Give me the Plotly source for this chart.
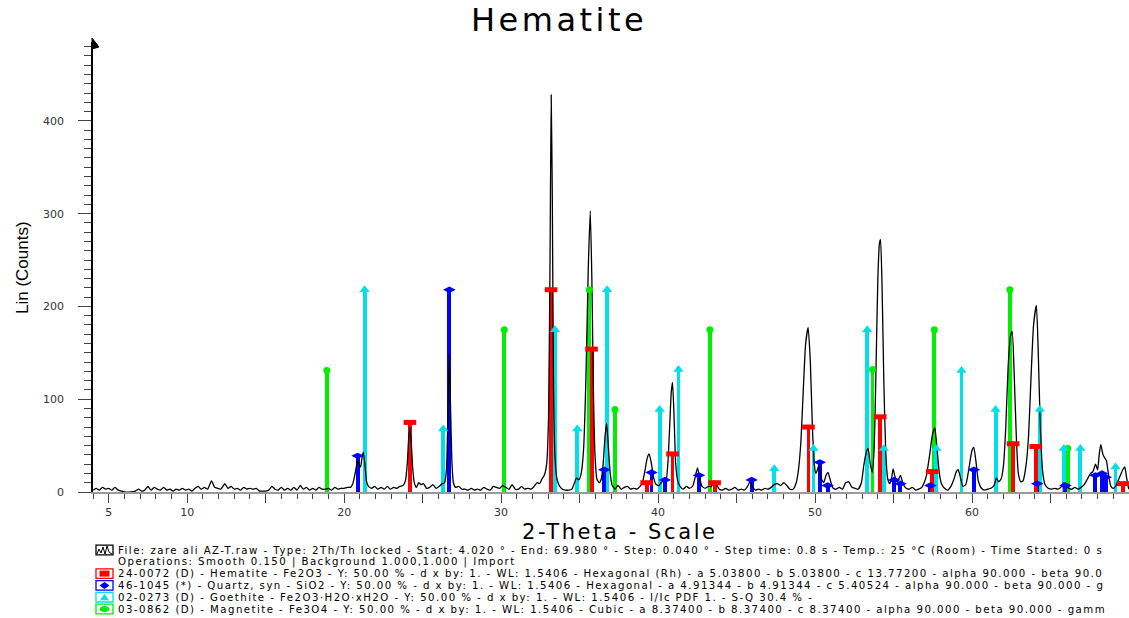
import plotly.graph_objects as go

# ---------------- data ----------------
two_theta = [4.02, 4.2, 4.4, 4.6, 4.8, 5.0, 5.2, 5.4, 5.6, 5.8, 6.0, 6.4, 6.7, 6.9, 7.1, 7.3, 7.5, 7.7, 7.9, 8.1,
             8.3, 8.5, 8.7, 8.9, 9.1, 9.3, 9.5, 9.7, 9.9, 10.1, 10.3, 10.5, 10.7, 10.9, 11.1, 11.3, 11.55, 11.75, 11.95, 12.15,
             12.4, 12.6, 12.8, 13.0, 13.2, 13.4, 13.6, 13.8, 14.0, 14.2, 14.4, 14.6, 14.8, 15.0, 15.2, 15.4, 15.6, 15.8, 16.0, 16.2,
             16.4, 16.6, 16.8, 17.0, 17.2, 17.4, 17.6, 17.8, 18.0, 18.2, 18.4, 18.6, 18.8, 19.0, 19.2, 19.4, 19.6, 19.8, 20.0, 20.2,
             20.4, 20.55, 20.7, 20.86, 20.97, 21.05, 21.13, 21.22, 21.32, 21.42, 21.55, 21.75, 21.95, 22.15, 22.35, 22.55, 22.75, 22.95, 23.15, 23.35,
             23.55, 23.75, 23.9, 24.02, 24.1, 24.19, 24.28, 24.37, 24.47, 24.6, 24.75, 24.9, 25.05, 25.25, 25.45, 25.65, 25.85, 26.05, 26.25, 26.4,
             26.52, 26.6, 26.7, 26.78, 26.86, 26.96, 27.1, 27.3, 27.5, 27.7, 27.9, 28.1, 28.3, 28.5, 28.7, 28.9, 29.1, 29.3, 29.5, 29.7,
             29.9, 30.1, 30.3, 30.5, 30.7, 30.9, 31.1, 31.3, 31.5, 31.7, 31.9, 32.1, 32.3, 32.45, 32.6, 32.75, 32.9, 33.02, 33.12, 33.19,
             33.26, 33.34, 33.44, 33.56, 33.7, 33.9, 34.1, 34.3, 34.5, 34.65, 34.8, 34.95, 35.1, 35.25, 35.4, 35.55, 35.68, 35.78, 35.88, 35.98,
             36.1, 36.25, 36.38, 36.5, 36.62, 36.72, 36.82, 36.95, 37.08, 37.25, 37.45, 37.65, 37.85, 38.05, 38.25, 38.45, 38.65, 38.85, 39.0, 39.15,
             39.3, 39.43, 39.58, 39.72, 39.88, 40.05, 40.2, 40.35, 40.5, 40.62, 40.75, 40.84, 40.92, 41.02, 41.12, 41.25, 41.4, 41.6, 41.8, 42.0,
             42.2, 42.35, 42.51, 42.65, 42.8, 43.0, 43.2, 43.4, 43.57, 43.72, 43.9, 44.1, 44.3, 44.5, 44.7, 44.9, 45.1, 45.3, 45.5, 45.7,
             45.85, 46.0, 46.2, 46.4, 46.6, 46.8, 47.0, 47.2, 47.4, 47.6, 47.8, 48.0, 48.2, 48.4, 48.6, 48.8, 48.95, 49.1, 49.25, 49.4,
             49.56, 49.7, 49.83, 49.95, 50.05, 50.15, 50.24, 50.38, 50.55, 50.7, 50.83, 50.98, 51.15, 51.35, 51.55, 51.75, 51.95, 52.15, 52.35, 52.55,
             52.75, 52.95, 53.1, 53.25, 53.38, 53.52, 53.64, 53.76, 53.88, 54.0, 54.1, 54.17, 54.27, 54.38, 54.5, 54.62, 54.75, 54.87, 54.97, 55.1,
             55.25, 55.44, 55.6, 55.8, 56.0, 56.2, 56.4, 56.6, 56.8, 56.95, 57.1, 57.3, 57.48, 57.63, 57.78, 57.92, 58.05, 58.25, 58.45, 58.65,
             58.85, 59.0, 59.12, 59.27, 59.42, 59.6, 59.75, 59.9, 60.0, 60.11, 60.25, 60.4, 60.6, 60.8, 61.0, 61.2, 61.4, 61.55, 61.7, 61.85,
             62.0, 62.15, 62.3, 62.45, 62.56, 62.68, 62.82, 62.95, 63.1, 63.25, 63.45, 63.6, 63.75, 63.92, 64.1, 64.22, 64.35, 64.5, 64.65,
             64.85, 65.05, 65.25, 65.45, 65.65, 65.85, 66.0, 66.15, 66.35, 66.55, 66.75, 66.95, 67.15, 67.35, 67.55, 67.7, 67.87, 68.0, 68.1, 68.2,
             68.35, 68.48, 68.56, 68.7, 68.85, 69.0, 69.15, 69.3, 69.45, 69.6, 69.73, 69.85, 69.98]
counts = [2, 4, 2, 5, 3, 4, 2, 5, 2, 1, 0, 0, 1, 3, 1, 2, 6, 2, 5, 3,
          2, 5, 2, 3, 1, 3, 2, 4, 2, 3, 1, 4, 6, 3, 5, 3, 12, 5, 4, 3,
          9, 4, 6, 3, 4, 2, 5, 3, 4, 3, 4, 1, 1, 1, 2, 6, 3, 2, 5, 2,
          4, 2, 5, 2, 7, 3, 5, 2, 4, 2, 5, 3, 3, 4, 2, 5, 3, 4, 4, 5,
          5, 9, 20, 34, 29, 27, 36, 43, 30, 12, 6, 4, 6, 3, 5, 3, 6, 3, 5, 4,
          6, 7, 12, 30, 55, 70, 52, 25, 10, 5, 10, 8, 9, 4, 5, 8, 4, 6, 9, 10,
          25, 75, 148, 90, 35, 10, 5, 6, 3, 3, 2, 4, 2, 3, 2, 5, 3, 2, 6, 5,
          4, 7, 5, 3, 8, 3, 3, 6, 3, 4, 3, 6, 10, 9, 14, 18, 30, 80, 260, 428,
          320, 110, 35, 14, 7, 3, 2, 2, 3, 9, 15, 13, 20, 45, 120, 240, 303, 230, 110, 40,
          14, 10, 14, 30, 60, 74, 52, 20, 7, 3, 7, 3, 5, 6, 3, 4, 3, 6, 10, 22,
          36, 41, 30, 15, 8, 7, 10, 13, 12, 30, 75, 108, 118, 80, 31, 12, 6, 3, 6, 4,
          6, 15, 26, 15, 6, 4, 6, 6, 12, 8, 3, 2, 4, 2, 3, 5, 2, 3, 2, 6,
          11, 6, 2, 3, 2, 4, 3, 5, 8, 9, 7, 10, 7, 3, 3, 10, 25, 55, 110, 160,
          177, 140, 70, 30, 20, 24, 29, 15, 10, 18, 21, 12, 4, 3, 5, 3, 10, 11, 5, 4,
          3, 10, 28, 42, 47, 30, 21, 45, 130, 230, 268, 272, 220, 120, 45, 15, 9, 14, 25, 16,
          11, 18, 9, 4, 3, 5, 2, 3, 5, 10, 18, 40, 62, 69, 45, 20, 9, 4, 2, 6,
          14, 22, 24, 15, 6, 8, 20, 36, 45, 48, 33, 12, 4, 2, 3, 4, 7, 15, 11, 14,
          28, 70, 135, 168, 173, 130, 60, 20, 11, 12, 30, 60, 120, 180, 201, 150, 70, 22, 8,
          4, 3, 4, 3, 5, 10, 8, 4, 3, 5, 3, 5, 8, 14, 20, 22, 30, 24, 40, 51,
          40, 36, 34, 18, 6, 4, 6, 12, 18, 24, 27, 15, 3]

hematite_pos = [24.19, 33.18, 35.76, 39.27, 40.92, 43.60, 49.58, 54.15, 57.46, 62.62, 64.06, 69.63]
hematite_int = [75, 218, 154, 10, 41, 10, 70, 81, 22, 52, 49, 9]

quartz_pos = [20.86, 26.70, 36.58, 39.58, 40.43, 42.60, 45.96, 50.30, 50.80, 55.04, 55.44, 57.35, 60.12, 64.15, 65.95, 67.86, 68.28, 68.52]
quartz_int = [39, 218, 24, 21, 13, 18, 13, 32, 7, 13, 9, 7, 24, 9, 7, 18, 20, 16]

goethite_pos = [21.30, 26.31, 33.43, 34.85, 36.75, 40.10, 41.30, 47.40, 49.90, 53.32, 54.38, 57.72, 59.33, 61.50, 64.32, 65.85, 66.90, 69.14]
goethite_int = [218, 68, 175, 68, 218, 89, 132, 25, 47, 175, 47, 47, 131, 89, 89, 47, 47, 27]

magnetite_pos = [18.90, 30.20, 35.62, 37.25, 43.30, 53.66, 57.60, 62.41, 66.10]
magnetite_int = [131, 175, 218, 89, 175, 132, 175, 218, 47]

x_tick_vals = [5, 10, 15, 20, 25, 30, 35, 40, 45, 50, 55, 60, 65]
x_tick_text = ["5", "10", "", "20", "", "30", "", "40", "", "50", "", "60", ""]
y_tick_vals = [0, 100, 200, 300, 400]

legend_lines = [
    "File: zare ali AZ-T.raw - Type: 2Th/Th locked - Start: 4.020 ° - End: 69.980 ° - Step: 0.040 ° - Step time: 0.8 s - Temp.: 25 °C (Room) - Time Started: 0 s",
    "Operations: Smooth 0.150 | Background 1.000,1.000 | Import",
    "24-0072 (D) - Hematite - Fe2O3 - Y: 50.00 % - d x by: 1. - WL: 1.5406 - Hexagonal (Rh) - a 5.03800 - b 5.03800 - c 13.77200 - alpha 90.000 - beta 90.0",
    "46-1045 (*) - Quartz, syn - SiO2 - Y: 50.00 % - d x by: 1. - WL: 1.5406 - Hexagonal - a 4.91344 - b 4.91344 - c 5.40524 - alpha 90.000 - beta 90.000 - g",
    "02-0273 (D) - Goethite - Fe2O3·H2O·xH2O - Y: 50.00 % - d x by: 1. - WL: 1.5406 - I/Ic PDF 1. - S-Q 30.4 % -",
    "03-0862 (D) - Magnetite - Fe3O4 - Y: 50.00 % - d x by: 1. - WL: 1.5406 - Cubic - a 8.37400 - b 8.37400 - c 8.37400 - alpha 90.000 - beta 90.000 - gamm",
]

# ---------------- layout geometry (pixels) ----------------
W, H = 1129, 618
L, R, T, B = 93, 0, 42, 126
PW, PH = W - L - R, H - T - B


def px(xp):
    return (xp - L) / PW


def py(yp):
    return (H - B - yp) / PH


def spaced(txt, ls):
    return f'<span style="letter-spacing:{ls}px">{txt}</span>'


RED, BLUE, CYAN, GREEN = "#ff0000", "#0000ff", "#00e0e8", "#00ee00"
phases = [
    (magnetite_pos, magnetite_int, GREEN, "circle", 7, None),
    (goethite_pos, goethite_int, CYAN, "triangle-up", 9, None),
    (quartz_pos, quartz_int, BLUE, "diamond-wide", 9, None),
    (hematite_pos, hematite_int, RED, "line-ew", 9, 5),
]

fig = go.Figure()
for pos, inten, col, sym, size, lw in phases:
    fig.add_trace(go.Bar(x=pos, y=inten, width=0.25, marker=dict(color=col, line=dict(width=0)),
                         showlegend=False, hoverinfo="skip"))

fig.add_trace(go.Scatter(x=two_theta, y=counts, mode="lines",
                         line=dict(color="black", width=1.3, shape="spline", smoothing=0.5),
                         showlegend=False))

for pos, inten, col, sym, size, lw in phases:
    if lw:
        mk = dict(symbol=sym, size=size, line=dict(color=col, width=lw))
    else:
        mk = dict(symbol=sym, size=size, color=col, line=dict(width=0))
    fig.add_trace(go.Scatter(x=pos, y=inten, mode="markers", marker=mk, showlegend=False, hoverinfo="skip"))

tick_font = dict(family="DejaVu Sans", size=11, color="#333333")
fig.update_layout(
    width=W, height=H, autosize=False,
    margin=dict(l=L, r=R, t=T, b=B, pad=0),
    plot_bgcolor="white", paper_bgcolor="white",
    barmode="overlay", bargap=0,
    showlegend=False,
    xaxis=dict(range=[4.0, 70.0], showgrid=False, zeroline=False,
               showline=True, linecolor="#9a9a9a", linewidth=2,
               tickmode="array", tickvals=x_tick_vals, ticktext=x_tick_text,
               ticks="outside", ticklen=9, tickwidth=1.3, tickcolor="#444444",
               tickfont=tick_font, ticklabelstandoff=0,
               minor=dict(tickmode="linear", tick0=0, dtick=1, ticks="outside", ticklen=5,
                          tickwidth=1.2, tickcolor="#444444")),
    yaxis=dict(range=[0, 485], showgrid=False, zeroline=False,
               showline=True, linecolor="black", linewidth=1.5,
               tickmode="array", tickvals=y_tick_vals,
               ticks="outside", ticklen=13, tickwidth=1.2, tickcolor="#444444",
               tickfont=tick_font, ticklabelstandoff=12,
               minor=dict(tickmode="linear", tick0=0, dtick=10, ticks="outside", ticklen=7,
                          tickwidth=1.2, tickcolor="#444444")),
)

ann = []
ann.append(dict(text=spaced("Hematite", 3.5), x=px(559), y=py(20), xref="paper", yref="paper",
                showarrow=False, xanchor="center", yanchor="middle",
                font=dict(family="DejaVu Sans", size=32, color="black")))
ann.append(dict(text=spaced("2-Theta - Scale", 2.6), x=px(620), y=py(532), xref="paper", yref="paper",
                showarrow=False, xanchor="center", yanchor="middle",
                font=dict(family="DejaVu Sans", size=21, color="black")))
ann.append(dict(text="Lin (Counts)", x=px(22), y=py(268), xref="paper", yref="paper",
                showarrow=False, xanchor="center", yanchor="middle", textangle=-90,
                font=dict(family="Liberation Sans", size=17, color="black")))

line_centers = [550, 561.8, 573.6, 585.4, 597.2, 609]
for txt, yc in zip(legend_lines, line_centers):
    ann.append(dict(text=spaced(txt, 1.45), x=px(116), y=py(yc), xref="paper", yref="paper",
                    showarrow=False, xanchor="left", yanchor="middle",
                    font=dict(family="DejaVu Sans", size=10.2, color="black")))

shapes = []
# y axis arrow head
shapes.append(dict(type="path", xref="paper", yref="paper",
                   path=f"M {px(92)} {py(38)} L {px(99)} {py(47)} L {px(92)} {py(49)} Z",
                   fillcolor="black", line=dict(color="black", width=1)))

# legend icons
x0, x1 = 96, 113
xc = (x0 + x1) / 2
icon_cols = [("black", line_centers[0]), (RED, line_centers[2]), (BLUE, line_centers[3]),
             (CYAN, line_centers[4]), (GREEN, line_centers[5])]
for col, yc in icon_cols:
    shapes.append(dict(type="rect", xref="paper", yref="paper",
                       x0=px(x0), x1=px(x1), y0=py(yc - 4.8), y1=py(yc + 4.8),
                       line=dict(color=col, width=1.3), fillcolor="white"))
# waveform icon
yc = line_centers[0]
wave = [(97, yc + 4), (99, yc - 1), (101, yc + 3), (103, yc - 3), (105, yc + 4), (107, yc - 4), (109, yc + 2), (112, yc + 4)]
shapes.append(dict(type="path", xref="paper", yref="paper",
                   path="M " + " L ".join(f"{px(a)} {py(b)}" for a, b in wave),
                   line=dict(color="black", width=1)))
# hematite rectangle
yc = line_centers[2]
shapes.append(dict(type="rect", xref="paper", yref="paper", x0=px(99.5), x1=px(109.5),
                   y0=py(yc - 3), y1=py(yc + 3), fillcolor=RED, line=dict(width=0)))
# quartz diamond
yc = line_centers[3]
shapes.append(dict(type="path", xref="paper", yref="paper",
                   path=f"M {px(xc-5)} {py(yc)} L {px(xc)} {py(yc-3.5)} L {px(xc+5)} {py(yc)} L {px(xc)} {py(yc+3.5)} Z",
                   fillcolor=BLUE, line=dict(width=0)))
# goethite triangle
yc = line_centers[4]
shapes.append(dict(type="path", xref="paper", yref="paper",
                   path=f"M {px(xc-4.5)} {py(yc+3)} L {px(xc)} {py(yc-3.5)} L {px(xc+4.5)} {py(yc+3)} Z",
                   fillcolor=CYAN, line=dict(width=0)))
# magnetite ellipse
yc = line_centers[5]
shapes.append(dict(type="circle", xref="paper", yref="paper", x0=px(xc - 5), x1=px(xc + 5),
                   y0=py(yc - 3), y1=py(yc + 3), fillcolor=GREEN, line=dict(width=0)))

fig.update_layout(annotations=ann, shapes=shapes)
fig.write_html("out.html", config={"displayModeBar": False},
               post_script="document.body.style.margin='0px';")
